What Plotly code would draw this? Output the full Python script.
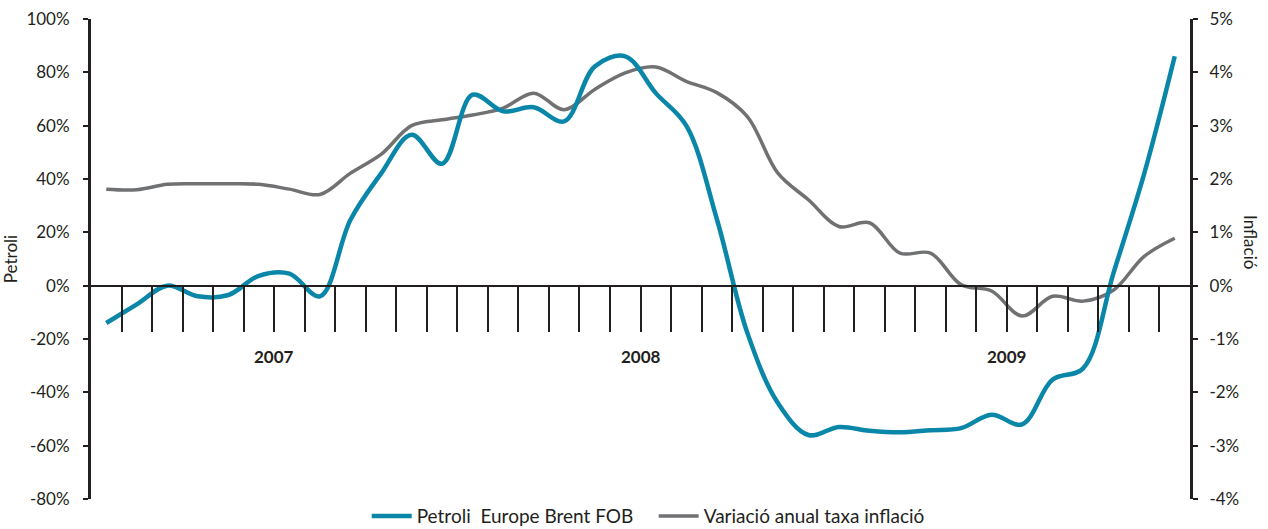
import plotly.graph_objects as go

months = [f"{y}-{m:02d}" for y in (2007, 2008, 2009) for m in range(1, 13)]
years = ["2007", "2008", "2009"]
year_centres = [5.5, 17.5, 29.5]
year_bounds = [11.5, 23.5]

petroli = [-14, -7, 0, -4, -3.5, 3.7, 4.5, -4, 24.7, 42,
           56.6, 45.7, 71.6, 65.4, 66.9, 61.6, 82.2, 86, 72.2, 60,
           25, -17.7, -44, -56, -53, -54.4, -55, -54.2, -53.4, -48.4,
           -52, -35.2, -31, 5, 42, 86]
inflacio = [1.81, 1.8, 1.9, 1.91, 1.91, 1.9, 1.81, 1.71, 2.11, 2.46,
            3.0, 3.11, 3.2, 3.33, 3.61, 3.3, 3.68, 3.99, 4.1, 3.83,
            3.62, 3.17, 2.11, 1.61, 1.11, 1.18, 0.61, 0.61, 0.02, -0.1,
            -0.57, -0.2, -0.29, -0.08, 0.55, 0.89]

left_ticks = [-80, -60, -40, -20, 0, 20, 40, 60, 80, 100]
left_labels = ["-80%", "-60%", "-40%", "-20%", "0%", "20%", "40%", "60%", "80%", "100%"]
right_ticks = [-4, -3, -2, -1, 0, 1, 2, 3, 4, 5]
right_labels = ["-4%", "-3%", "-2%", "-1%", "0%", "1%", "2%", "3%", "4%", "5%"]

xidx = list(range(len(months)))
minor_ticks = [i + 0.5 for i in range(len(months) - 1)]

FONT = "Lato"
INK = "#231f20"
BLUE = "#0a87a8"
GRAY = "#707173"

fig = go.Figure()
fig.add_trace(go.Scatter(
    x=xidx, y=inflacio, name="Variació anual taxa inflació", yaxis="y",
    mode="lines", line=dict(color=GRAY, width=3.5, shape="spline", smoothing=1),
    legendrank=2, customdata=months))
fig.add_trace(go.Scatter(
    x=xidx, y=petroli, name="Petroli\u00a0 Europe Brent FOB", yaxis="y2",
    mode="lines", line=dict(color=BLUE, width=4.5, shape="spline", smoothing=1),
    legendrank=1, customdata=months))

for yr, xc in zip(years, year_centres):
    fig.add_annotation(x=xc, y=-26.6, xref="x", yref="y2", text=f"<b>{yr}</b>",
                       showarrow=False, font=dict(family=FONT, size=17, color=INK))

fig.add_annotation(x=1.067, y=0.535, xref="paper", yref="paper", text="Inflació",
                   textangle=90, showarrow=False, font=dict(family=FONT, size=17, color=INK))

fig.update_layout(
    width=1268, height=529,
    margin=dict(l=91, r=78, t=19, b=30, autoexpand=False),
    paper_bgcolor="white", plot_bgcolor="white",
    font=dict(family=FONT, size=17, color=INK),
    showlegend=True,
    legend=dict(orientation="h", x=0.512, xanchor="center", y=0.004, yanchor="top",
                font=dict(family=FONT, size=19, color=INK), itemwidth=40,
                entrywidth=232, entrywidthmode="pixels",
                traceorder="normal", tracegroupgap=0, bgcolor="rgba(0,0,0,0)"),
    xaxis=dict(range=[-0.5, 35.5], anchor="free", position=80 / 180,
               showline=True, linecolor=INK, linewidth=1.5,
               showgrid=False, zeroline=False,
               tickmode="array", tickvals=year_bounds, ticktext=["", ""],
               ticks="outside", ticklen=91, tickwidth=1.5, tickcolor=INK,
               minor=dict(tickmode="array", tickvals=minor_ticks, ticks="outside",
                          ticklen=46, tickwidth=2, tickcolor=INK, showgrid=False)),
    yaxis=dict(range=[-4, 5], side="right", automargin=False,
               tickmode="array", tickvals=right_ticks, ticktext=right_labels,
               showline=True, linecolor=INK, linewidth=3,
               ticks="outside", ticklen=5, tickwidth=1.5, tickcolor=INK,
               showgrid=False, zeroline=False, ticklabelstandoff=8,
               tickfont=dict(family=FONT, size=17, color=INK)),
    yaxis2=dict(range=[-80, 100], side="left", overlaying="y", automargin=False,
                tickmode="array", tickvals=left_ticks, ticktext=left_labels,
                showline=True, linecolor=INK, linewidth=3,
                ticks="outside", ticklen=5, tickwidth=1.5, tickcolor=INK,
                showgrid=False, zeroline=False, ticklabelstandoff=10,
                title=dict(text="Petroli", font=dict(family=FONT, size=17, color=INK), standoff=10),
                tickfont=dict(family=FONT, size=17, color=INK)),
)

fig.write_html("out.html", config={"displayModeBar": False},
               post_script="document.body.style.margin='0';")
